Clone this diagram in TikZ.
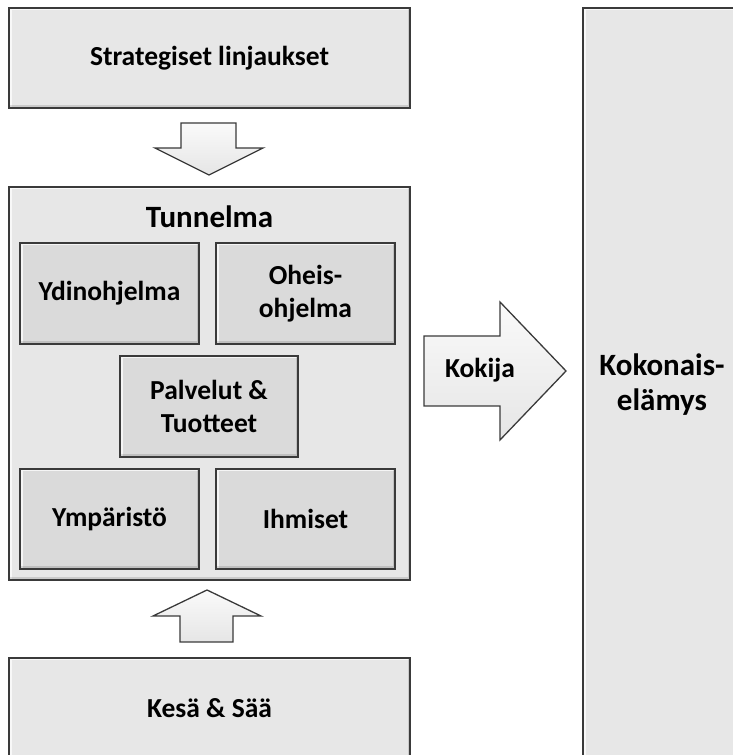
\documentclass[tikz,border=0pt]{standalone}
\usepackage{fontspec}
\setmainfont{Carlito}
\definecolor{edge}{HTML}{3A3A3A}
\definecolor{outerfill}{HTML}{E7E7E7}
\definecolor{innerfill}{HTML}{DADADA}
\begin{document}
\begin{tikzpicture}[x=1pt,y=1pt,
  bevel/.style={path picture={
    \path (path picture bounding box.south west) coordinate (bsw)
          (path picture bounding box.north east) coordinate (bne);
    \draw[white,opacity=.75,line width=5pt] (bsw) -- (bsw |- bne) -- (bne);
    \draw[black,opacity=.12,line width=5pt] (bsw) -- (bsw -| bne) -- (bne);
  }},
  panel/.style={draw=edge,line width=1.8pt,fill=outerfill,bevel,
    inner sep=0pt,align=center,font=\fontsize{27.5}{33}\selectfont\bfseries},
  tile/.style={panel,fill=innerfill},
  blockarrow/.style={draw=edge,line width=1.3pt,line join=miter,
    top color=gray!4,bottom color=gray!20},
  label/.style={font=\fontsize{27.5}{33}\selectfont\bfseries,align=center}
]
\useasboundingbox (0,0) rectangle (733,755);
\clip (0,0) rectangle (733,755);

% left column
\node[panel,minimum width=401,minimum height=100] (strat) at (209.5,697) {Strategiset linjaukset};
\node[panel,minimum width=401,minimum height=393] (tunn) at (209.5,371.5) {};
\node[label,font=\fontsize{31}{36}\selectfont\bfseries] (tunntitle) at (209.5,538) {Tunnelma};
\node[tile,minimum width=179,minimum height=101] (ydin) at (109.5,461.5) {Ydinohjelma};
\node[tile,minimum width=179,minimum height=101] (oheis) at (305.5,461.5) {Oheis-\\ohjelma};
\node[tile,minimum width=178,minimum height=101] (palv) at (209,348.5) {Palvelut \&\\Tuotteet};
\node[tile,minimum width=179,minimum height=100] (ymp) at (109.5,236) {Ympäristö};
\node[tile,minimum width=179,minimum height=100] (ihm) at (305.5,236) {Ihmiset};
\node[panel,minimum width=401,minimum height=100] (kesa) at (209.5,47) {Kesä \& Sää};

% right column
\node[panel,minimum width=158,minimum height=754,
  font=\fontsize{31}{35}\selectfont\bfseries] (koko) at (662,370) {Kokonais-\\elämys};

% block arrows
\draw[blockarrow] (181,632) -- (236,632) -- (236,607) -- (263,607) -- (209,580)
  -- (155,607) -- (181,607) -- cycle;
\draw[blockarrow] (180,113) -- (233,113) -- (233,139) -- (261,139) -- (207,165)
  -- (153,139) -- (180,139) -- cycle;
\draw[blockarrow] (424,419) -- (500,419) -- (500,453) -- (566,384) -- (500,315)
  -- (500,349) -- (424,349) -- cycle;
\node[label] (kokija) at (480,385) {Kokija};
\end{tikzpicture}
\end{document}
